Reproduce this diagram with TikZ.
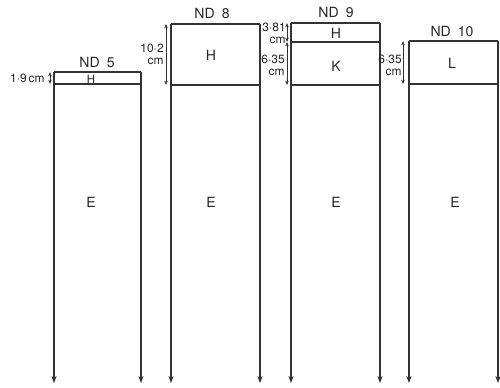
\documentclass[tikz,border=0pt]{standalone}
\usepackage{fontspec}
\setmainfont{TeX Gyre Heros}
\usetikzlibrary{arrows.meta}

\begin{document}
\begin{tikzpicture}[x=0.02cm,y=-0.02cm,
		wall/.style={draw=black!80,line width=0.7pt},
		down/.style={wall,-{Stealth[length=4pt,width=3pt]}},
		dim/.style={draw=black!80,line width=0.4pt,{Stealth[length=2.5pt,width=2pt]}-{Stealth[length=2.5pt,width=2pt]}},
		lbl/.style={font=\fontsize{8}{9}\selectfont,inner sep=1pt,text=black!85},
		dimlbl/.style={font=\fontsize{6.8}{7}\selectfont,inner sep=0pt,align=right,anchor=east,text=black!85}]
	\useasboundingbox (0,0) rectangle (500,387);
	
	% Column ND 5
	\coordinate (t5l) at (54,72);  \coordinate (t5r) at (141,72);
	\coordinate (h5l) at (54,84);  \coordinate (h5r) at (141,84);
	\coordinate (e5l) at (54,383); \coordinate (e5r) at (141,383);
	\draw[wall] (t5l) -- (t5r);
	\draw[wall] (h5l) -- (h5r);
	\draw[down] (t5l) -- (e5l);
	\draw[down] (t5r) -- (e5r);
	\node[lbl] (nd5) at (97,62) {ND\enspace 5};
	\node[lbl,font=\fontsize{6.5}{6.5}\selectfont] (h5) at (91,79) {H};
	\node[lbl] (e5) at (91,202) {E};
	\coordinate (d5a) at (50,72); \coordinate (d5b) at (50,84);
	\draw[dim] (d5a) -- (d5b);
	\node[dimlbl] (d5) at (45,78) {1·9\,cm};
	
	% Column ND 8
	\coordinate (t8l) at (171,24);  \coordinate (t8r) at (260,24);
	\coordinate (h8l) at (171,85);  \coordinate (h8r) at (260,85);
	\coordinate (e8l) at (171,383); \coordinate (e8r) at (260,383);
	\draw[wall] (t8l) -- (t8r);
	\draw[wall] (h8l) -- (h8r);
	\draw[down] (t8l) -- (e8l);
	\draw[down] (t8r) -- (e8r);
	\node[lbl] (nd8) at (212,13) {ND\enspace 8};
	\node[lbl] (h8) at (211,55) {H};
	\node[lbl] (e8) at (211,202) {E};
	\coordinate (d8a) at (166,24); \coordinate (d8b) at (166,85);
	\draw[dim] (d8a) -- (d8b);
	\node[dimlbl] (d8) at (164,54) {10·2\\cm};
	
	% Column ND 9
	\coordinate (t9l) at (291,23);  \coordinate (t9r) at (380,23);
	\coordinate (h9l) at (291,42);  \coordinate (h9r) at (380,42);
	\coordinate (k9l) at (291,85);  \coordinate (k9r) at (380,85);
	\coordinate (e9l) at (291,383); \coordinate (e9r) at (380,383);
	\draw[wall] (t9l) -- (t9r);
	\draw[wall] (h9l) -- (h9r);
	\draw[wall] (k9l) -- (k9r);
	\draw[down] (t9l) -- (e9l);
	\draw[down] (t9r) -- (e9r);
	\node[lbl] (nd9) at (336,12) {ND\enspace 9};
	\node[lbl] (h9) at (336,33) {H};
	\node[lbl] (k9) at (336,66) {K};
	\node[lbl] (e9) at (336,202) {E};
	\coordinate (d9a) at (287,23); \coordinate (d9b) at (287,42); \coordinate (d9c) at (287,85);
	\draw[dim] (d9a) -- (d9b);
	\draw[dim] (d9b) -- (d9c);
	\node[dimlbl] (d9h) at (286,33) {3·81\\cm};
	\node[dimlbl] (d9k) at (285,65) {6·35\\cm};
	
	% Column ND 10
	\coordinate (t10l) at (409,41);  \coordinate (t10r) at (498,41);
	\coordinate (l10l) at (409,84);  \coordinate (l10r) at (498,84);
	\coordinate (e10l) at (409,383); \coordinate (e10r) at (498,383);
	\draw[wall] (t10l) -- (t10r);
	\draw[wall] (l10l) -- (l10r);
	\draw[down] (t10l) -- (e10l);
	\draw[down] (t10r) -- (e10r);
	\node[lbl] (nd10) at (452,31) {ND\enspace 10};
	\node[lbl] (l10) at (452,63) {L};
	\node[lbl] (e10) at (455,202) {E};
	\coordinate (d10a) at (403,41); \coordinate (d10b) at (403,84);
	\draw[dim] (d10a) -- (d10b);
	\node[dimlbl] (d10) at (402,65) {6·35\\cm};
\end{tikzpicture}
\end{document}
